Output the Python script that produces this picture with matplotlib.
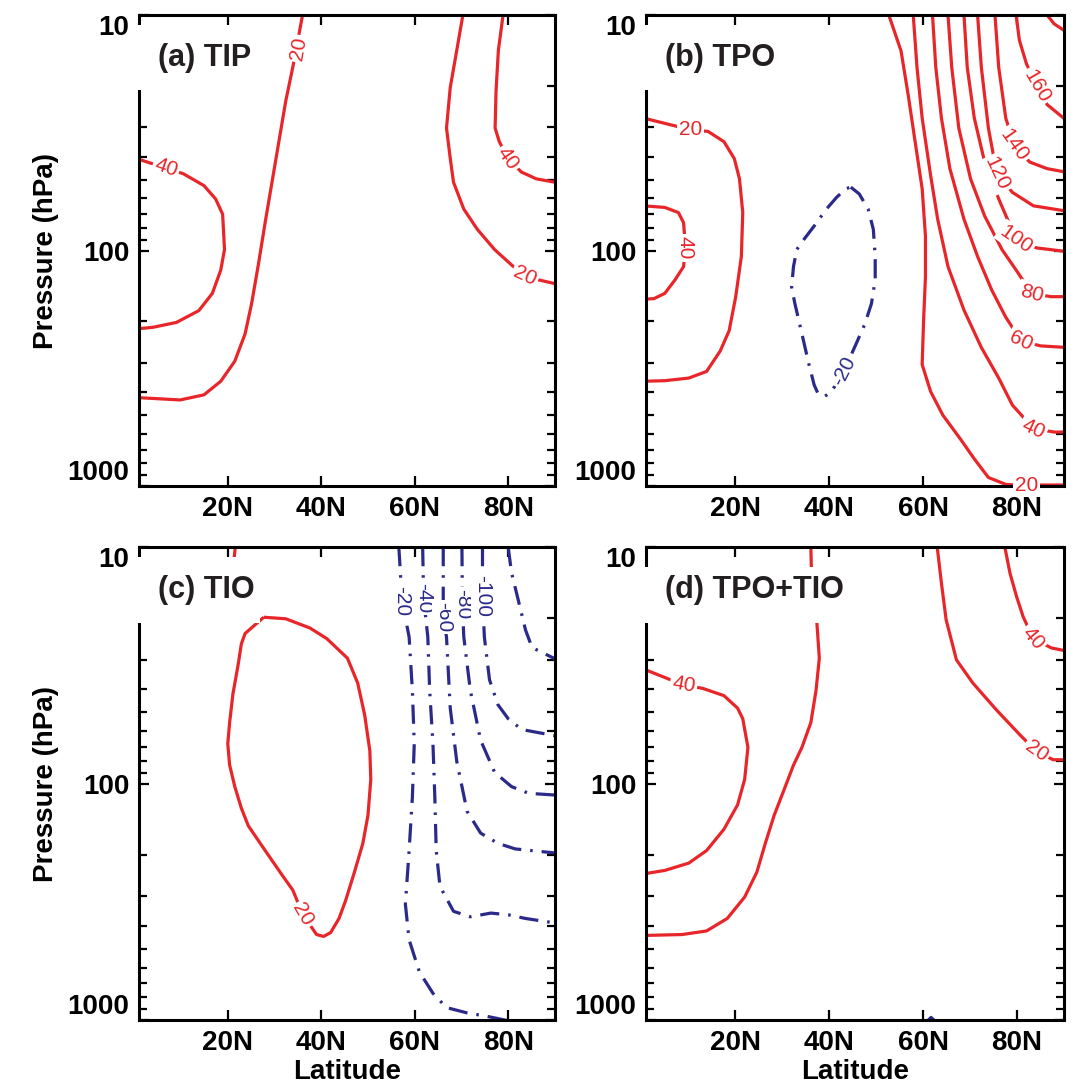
import matplotlib.pyplot as plt
from matplotlib.patches import Rectangle
from matplotlib.ticker import LogLocator, NullFormatter

plt.rcParams['font.family'] = ['Liberation Sans', 'DejaVu Sans']

RED = '#e8262a'
BLUE = '#2b2a8a'

# ---- panel (a) TIP : contour paths (lat in deg N, p in hPa)
a40w_lat = [0.5, 10.5, 14.9, 17.4, 18.9, 19.3, 18.5, 16.7, 13.8, 9.0, 3.9, 0.5]
a40w_p = [40.7, 47.2, 53, 60.4, 70.1, 99, 121, 152, 180, 202, 212, 215]
a20w_lat = [0.5, 9.8, 14.9, 18.5, 21.5, 23.7, 25.1, 26.6, 28.0, 30.2, 32.4, 33.9, 36.0]
a20w_p = [421, 431, 410, 359, 295, 226, 168, 113, 76, 42, 23.2, 16.7, 10]
a20e_lat = [70.3, 69.0, 67.6, 66.8, 67.6, 68.3, 70.5, 73.4, 77.1, 80.7, 83.5, 90.5]
a20e_p = [10, 14.1, 20.3, 30.2, 40.6, 51.3, 66.7, 81.3, 99.1, 115, 129, 139]
a40e_lat = [78.9, 77.9, 77.4, 77.2, 78.1, 80.0, 82.8, 86.0, 90.5]
a40e_p = [10, 14.1, 21, 30.2, 34.5, 40.7, 46.4, 49.6, 51.5]

# ---- panel (b) TPO
b20w_lat = [0.5, 10.5, 14.2, 17.6, 19.8, 20.9, 21.6, 21.3, 20.1, 18.7, 16.8, 13.9, 10.1, 5.0, 0.5]
b20w_p = [27.4, 30.7, 31.2, 34.5, 40.7, 49.6, 69, 106, 157, 219, 267, 326, 348, 357, 359]
b40w_lat = [0.5, 5.0, 7.9, 9.0, 9.4, 9.0, 7.2, 5.0, 2.7, 0.5]
b40w_p = [64.6, 65.6, 69, 76.2, 97.5, 117, 133, 152, 160, 161]
bm20_lat = [44.6, 46.4, 48.3, 49.4, 49.8, 49.8, 49.0, 47.6, 45.7, 43.1, 40.5, 39.0, 37.6,
            36.8, 35.7, 34.2, 32.7, 32.0, 32.4, 33.1, 34.6, 36.8, 39.4, 41.6, 43.5, 44.6]
bm20_p = [53.8, 57.5, 66.7, 81.3, 106, 133, 168, 205, 250, 326, 397, 417, 404,
          372, 305, 226, 168, 143, 117, 99, 89.8, 78.7, 66.7, 59.4, 54.7, 53.8]
b20e_lat = [52.7, 55.3, 56.8, 58.3, 59.8, 60.5, 60.5, 60.1, 59.8, 61.6, 64.2, 67.9, 70.9, 73.9, 77.6, 80.0, 90.5]
b20e_p = [10, 14.2, 21.7, 34.5, 54.7, 86.9, 129, 198, 305, 397, 500, 630, 767, 920, 984, 990, 990]
b40e_lat = [57.9, 58.7, 59.8, 61.6, 63.1, 65.3, 68.7, 72.4, 76.1, 79.0, 83.5, 87.9, 90.5]
b40e_p = [10, 16.7, 27.4, 48, 73.6, 117, 179, 258, 348, 453, 570, 590, 590]
b60e_lat = [62.0, 62.7, 63.9, 65.7, 68.7, 71.6, 74.6, 77.6, 80.9, 85.0, 90.5]
b60e_p = [10, 16.7, 27.4, 44.9, 73.6, 106, 147, 192, 242, 254, 258]
b80e_lat = [65.3, 66.1, 67.6, 70.1, 73.1, 76.8, 79.8, 83.1, 87.2, 90.5]
b80e_p = [10, 16.7, 30.2, 49.6, 71.3, 99.1, 121, 152, 157, 157]
b100e_lat = [68.7, 69.4, 70.9, 73.1, 76.1, 79.8, 84.2, 90.5]
b100e_p = [10, 16.7, 27.4, 42.1, 60.4, 89.7, 97.5, 101]
b120e_lat = [71.6, 72.4, 73.9, 75.7, 79.0, 83.5, 90.5]
b120e_p = [10, 16.7, 30.2, 47.2, 56.6, 64.6, 68]
b140e_lat = [75.3, 76.1, 77.6, 79.4, 82.7, 86.4, 90.5]
b140e_p = [10, 16.7, 27.4, 35.6, 42.1, 44.9, 46.5]
b160e_lat = [79.8, 80.5, 82.0, 84.2, 86.4, 90.5]
b160e_p = [10, 12.8, 16.1, 20, 24, 28]
b180e_lat = [86.4, 87.9, 90.5]
b180e_p = [10, 10.9, 11.8]

# ---- panel (c) TIO
c20_lat = [27.7, 32.4, 37.6, 41.2, 45.6, 47.8, 49.3, 50.4, 50.6, 50.0, 48.9, 47.1, 45.2, 43.8, 42.0, 40.5,
           39.0, 36.1, 33.9, 31.7, 28.0, 24.4, 22.9, 21.5, 20.4, 20.0, 20.4, 21.1, 22.2, 22.9, 23.7, 27.7]
c20_p = [19.8, 20.1, 22, 24.4, 29.5, 37.6, 51.4, 72.8, 96.1, 136, 179, 237, 313, 372, 427, 443,
         435, 359, 282, 245, 192, 151, 127, 103, 83.6, 67.9, 55.1, 41.8, 31.6, 25.7, 23.2, 19.8]
c20t_lat = [21.6, 21.2, 18.0, 10.0, 0.5]
c20t_p = [10, 12, 15, 18, 19.8]
cm20_lat = [56.6, 57.3, 58.8, 59.5, 59.9, 59.5, 58.8, 58.0, 58.8, 61.0, 63.9, 66.8, 71.2, 75.6, 79.3, 80.5]
cm20_p = [10, 16.9, 24, 40.4, 67.9, 114, 192, 324, 458, 626, 771, 886, 933, 966, 1000, 1010]
cm40_lat = [61.7, 61.9, 62.8, 63.2, 63.9, 64.3, 64.6, 65.4, 68.3, 71.9, 76.3, 80.0, 83.7, 90.5]
cm40_p = [10, 16.4, 24, 40.4, 67.9, 114, 192, 272, 347, 366, 353, 359, 372, 390]
cm60_lat = [66.1, 66.1, 66.8, 67.6, 69.0, 71.2, 74.1, 77.8, 81.5, 90.5]
cm60_p = [10, 19.8, 24, 48, 80.7, 131, 162, 179, 189, 197]
cm80_lat = [70.1, 70.2, 70.5, 71.9, 74.1, 77.1, 80.7, 84.4, 90.5]
cm80_p = [10, 17.5, 24, 40.4, 65.6, 89.7, 103, 110, 112]
cm100_lat = [74.5, 74.5, 74.9, 76.0, 77.8, 80.0, 82.9, 90.5]
cm100_p = [10, 16.1, 24, 36.4, 46.4, 53.2, 59.1, 63]
cm120_lat = [80.0, 80.7, 82.2, 83.7, 85.1, 90.5]
cm120_p = [10, 12.8, 16.9, 22.4, 26.6, 30]

# ---- panel (d) TPO+TIO
d40_lat = [0.5, 9.0, 13.1, 17.6, 20.5, 21.6, 22.7, 22.0, 20.5, 17.6, 13.9, 10.1, 5.0, 0.5]
d40_p = [32.8, 38.3, 39.6, 42.5, 48, 53.2, 70.3, 96.1, 123, 156, 192, 217, 233, 241]
d20w_lat = [36.1, 36.2, 37.2, 37.4, 37.9, 37.2, 36.1, 34.2, 32.4, 30.1, 28.3, 26.4, 24.6, 22.0, 18.3, 13.9, 8.7, 0.5]
d20w_p = [10, 12.2, 16.9, 21.2, 29.5, 40.4, 55.2, 70.3, 83.6, 110, 136, 179, 237, 302, 372, 420, 435, 439]
d20e_lat = [63.0, 63.9, 64.9, 67.1, 70.6, 75.6, 80.6, 84.1, 87.7, 90.5]
d20e_p = [10, 14.2, 20.3, 30, 37.6, 48.8, 62.2, 73.1, 79.3, 79.3]
d40e_lat = [77.4, 78.5, 79.9, 81.3, 83.4, 87.3, 90.5]
d40e_p = [10, 12.9, 16.2, 19.7, 24.3, 26.7, 27.5]
dm20_lat = [60.9, 61.7, 62.5]
dm20_p = [1010, 975, 1010]

# (lat, p, value) per contour line
lines_a = [(a40w_lat, a40w_p, 40), (a20w_lat, a20w_p, 20), (a20e_lat, a20e_p, 20), (a40e_lat, a40e_p, 40)]
lines_b = [(b20w_lat, b20w_p, 20), (b40w_lat, b40w_p, 40), (bm20_lat, bm20_p, -20),
           (b20e_lat, b20e_p, 20), (b40e_lat, b40e_p, 40), (b60e_lat, b60e_p, 60),
           (b80e_lat, b80e_p, 80), (b100e_lat, b100e_p, 100), (b120e_lat, b120e_p, 120),
           (b140e_lat, b140e_p, 140), (b160e_lat, b160e_p, 160), (b180e_lat, b180e_p, 180)]
lines_c = [(c20_lat, c20_p, 20), (c20t_lat, c20t_p, 20), (cm20_lat, cm20_p, -20), (cm40_lat, cm40_p, -40),
           (cm60_lat, cm60_p, -60), (cm80_lat, cm80_p, -80), (cm100_lat, cm100_p, -100),
           (cm120_lat, cm120_p, -120)]
lines_d = [(d40_lat, d40_p, 40), (d20w_lat, d20w_p, 20), (d20e_lat, d20e_p, 20),
           (d40e_lat, d40e_p, 40), (dm20_lat, dm20_p, -20)]

# contour labels: (lat, p, text, rotation)
labels_a = [(6.8, 44.5, '40', -19), (35.2, 13.9, '20', 80), (83.6, 128, '20', -25), (80.0, 40.7, '40', -55)]
labels_b = [(10.5, 30.7, '20', 0), (9.4, 97.5, '40', -90), (43.1, 326, '-20', 63),
            (82.0, 990, '20', 0), (83.5, 570, '40', -25), (80.9, 242, '60', -25),
            (83.1, 152, '80', -15), (79.8, 89.7, '100', -35), (75.7, 47.2, '120', -65),
            (79.4, 35.6, '140', -55), (84.2, 20, '160', -60)]
labels_c = [(36.1, 359, '20', -60), (57.3, 16.9, '-20', -90), (61.9, 16.4, '-40', -90),
            (66.1, 19.8, '-60', -90), (70.2, 17.5, '-80', -90), (74.5, 16.1, '-100', -90)]
labels_d = [(9.0, 38.3, '40', -10), (84.1, 73.1, '20', -35), (83.4, 24.3, '40', -50)]

titles = ['(a) TIP', '(b) TPO', '(c) TIO', '(d) TPO+TIO']
box_right = [0.29, 0.30, 0.29, 0.43]
box_top = [0.978, 0.978, 0.978, 0.957]

fig = plt.figure(figsize=(10.74, 10.90), dpi=100)
pos = [[0.1294, 0.5541, 0.3873, 0.4321], [0.6015, 0.5541, 0.3892, 0.4321],
       [0.1294, 0.0642, 0.3873, 0.4339], [0.6015, 0.0642, 0.3892, 0.4339]]
all_lines = [lines_a, lines_b, lines_c, lines_d]
all_labels = [labels_a, labels_b, labels_c, labels_d]

for k in range(4):
    ax = fig.add_axes(pos[k])
    for lat, p, val in all_lines[k]:
        if val > 0:
            ax.plot(lat, p, color=RED, lw=2.3, solid_capstyle='butt', zorder=2)
        else:
            ax.plot(lat, p, color=BLUE, lw=2.3, ls=(0, (6, 2.8, 0.8, 2.8)), zorder=2)
    for lat, p, txt, rot in all_labels[k]:
        col = BLUE if txt.startswith('-') else RED
        ax.text(lat, p, txt, color=col, fontsize=15, rotation=rot, ha='center', va='center',
                rotation_mode='anchor', zorder=4, clip_on=False,
                bbox=dict(boxstyle='square,pad=0.1', fc='white', ec='none'))

    ax.set_yscale('log')
    ax.set_xlim(1, 90)
    ax.set_ylim(1000, 10)
    ax.set_xticks([20, 40, 60, 80])
    ax.set_xticklabels(['20N', '40N', '60N', '80N'])
    ax.set_yticks([10, 100, 1000])
    ax.set_yticklabels(['10', '100', '1000'])
    ax.yaxis.set_minor_locator(LogLocator(base=10, subs=range(2, 10)))
    ax.yaxis.set_minor_formatter(NullFormatter())
    ax.tick_params(which='both', direction='in', top=True, right=True, width=1.6)
    ax.tick_params(which='major', length=7, labelsize=20, pad=7)
    ax.tick_params(which='minor', length=6)
    for t in ax.get_xticklabels() + ax.get_yticklabels():
        t.set_fontweight('bold')
    yl = ax.get_yticklabels()
    yl[0].set_va('top')
    yl[2].set_va('bottom')
    for s in ax.spines.values():
        s.set_linewidth(2.2)

    # white box behind the panel title (it hides the left spine, as in the original)
    ax.add_patch(Rectangle((-0.012, 0.84), box_right[k] + 0.012, box_top[k] - 0.84,
                           transform=ax.transAxes, fc='white', ec='none', zorder=3, clip_on=False))
    ax.text(0.045, 0.909, titles[k], transform=ax.transAxes, fontsize=22, fontweight='bold',
            ha='left', va='center', color='#231f20', zorder=5)

    if k in (0, 2):
        ax.set_ylabel('Pressure (hPa)', fontsize=20, fontweight='bold', labelpad=6)
    if k in (2, 3):
        ax.set_xlabel('Latitude', fontsize=20, fontweight='bold', labelpad=2)

fig.savefig('out.png', dpi=100)
